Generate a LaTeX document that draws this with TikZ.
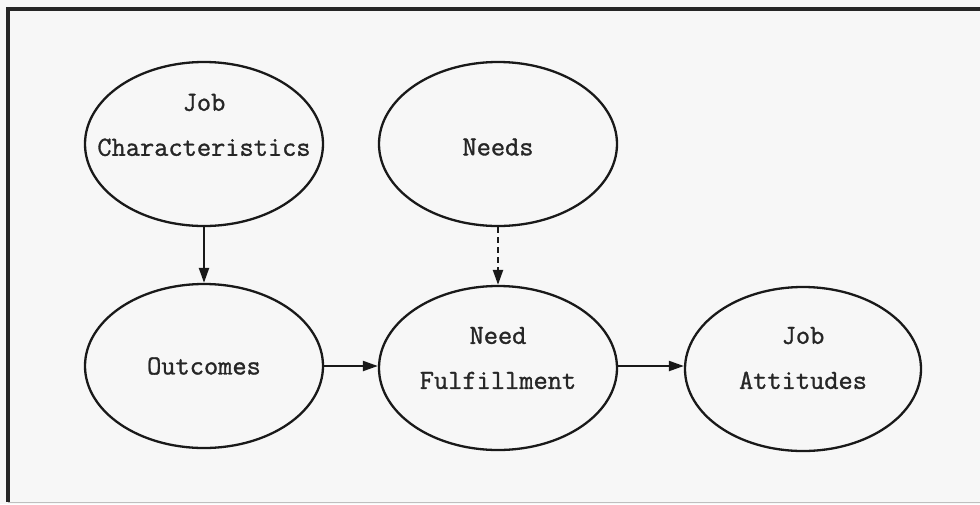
\documentclass[tikz,border=0pt]{standalone}
\usepackage{fontspec}
\setmonofont[FakeBold=1.2]{Latin Modern Mono}
\usetikzlibrary{arrows.meta,shapes.geometric}
\tikzset{
  bubble/.style={draw=black!90, line width=2.3pt, ellipse, minimum width=238pt, minimum height=164pt, inner sep=0pt},
  lbl/.style={font=\ttfamily\bfseries\fontsize{27.6}{45}\selectfont, align=center, text=black!85},
  conn/.style={draw=black!90, line width=2.2pt, -{Triangle[length=15pt,width=10pt]}},
  frameline/.style={draw=black!85, line width=3.2pt}
}
\begin{document}
\begin{tikzpicture}[x=1pt,y=-1pt]
\useasboundingbox (0,0) rectangle (980,504);
\fill[black!3] (0,0) rectangle (980,504);
\coordinate (tl) at (8,9);
\coordinate (tr) at (980,9);
\coordinate (bl) at (8,502);
\coordinate (br) at (980,502);
\draw[frameline] (tr) -- (tl) -- (bl);
\draw[draw=black!25, line width=1pt] (bl) -- (br);

\node[bubble] (jc) at (204,144) {};
\node[bubble] (nd) at (498,144) {};
\node[bubble] (oc) at (204,366) {};
\node[bubble] (nf) at (498,368) {};
\node[bubble, minimum width=236pt] (ja) at (803,369) {};

\node[lbl] (jct) at ([yshift=19pt]jc.center) {Job\\Characteristics};
\node[lbl] (ndt) at ([yshift=-3pt]nd.center) {Needs};
\node[lbl] (oct) at ([yshift=0pt]oc.center) {Outcomes};
\node[lbl] (nft) at ([yshift=10pt]nf.center) {Need\\Fulfillment};
\node[lbl] (jat) at ([yshift=11pt]ja.center) {Job\\Attitudes};

\draw[conn] (jc.south) -- (oc.north);
\draw[conn, dash pattern=on 6pt off 4pt] (nd.south) -- (nf.north);
\draw[conn] (oc.east) -- (oc.east -| nf.west);
\draw[conn] ([yshift=2pt]nf.east) -- ([yshift=2pt]nf.east -| ja.west);
\end{tikzpicture}
\end{document}
